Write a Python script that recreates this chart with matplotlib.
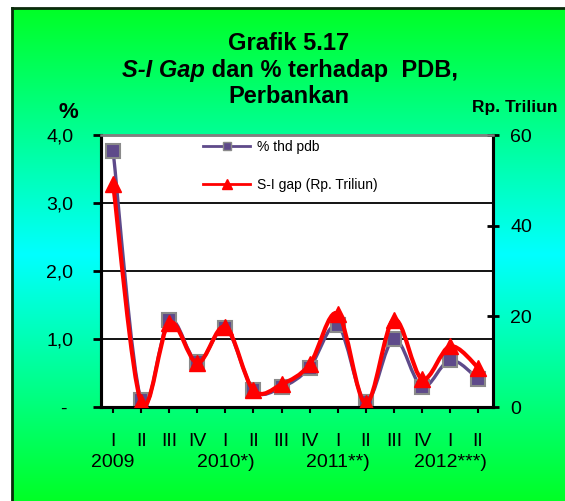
import numpy as np
import matplotlib
matplotlib.use('Agg')
from matplotlib import pyplot as plt
from matplotlib.path import Path
from matplotlib.patches import PathPatch
from matplotlib.lines import Line2D
from matplotlib.colors import LinearSegmentedColormap

plt.rcParams['font.family'] = ['Liberation Sans', 'DejaVu Sans']

# data
quarters = ['I', 'II', 'III', 'IV', 'I', 'II', 'III', 'IV', 'I', 'II', 'III', 'IV', 'I', 'II']
year_pos = [0, 4, 8, 12]
years = ['2009', '2010*)', '2011**)', '2012***)']
pdb_pct = [3.77, 0.10, 1.28, 0.66, 1.16, 0.25, 0.29, 0.58, 1.20, 0.08, 1.00, 0.30, 0.69, 0.41]
si_gap = [49.3, 1.0, 18.6, 9.7, 17.7, 3.7, 5.0, 9.4, 20.6, 0.8, 19.3, 6.2, 13.4, 8.7]
left_ticks = [0, 1, 2, 3, 4]
left_labels = ['- ', '1,0', '2,0', '3,0', '4,0']
right_ticks = [0, 20, 40, 60]

W, H = 565, 501
fig = plt.figure(figsize=(W / 100, H / 100), dpi=100)
fig.patch.set_facecolor('white')

# green -> cyan -> green background frame
bg = fig.add_axes([12 / W, 0, 1 - 12 / W, 1 - 8 / H])
cmap = LinearSegmentedColormap.from_list('bg', ['#00ff26', '#00ffff', '#00ff26'])
bg.imshow(np.linspace(0, 1, 256).reshape(-1, 1), aspect='auto', cmap=cmap,
          extent=(0, 1, 0, 1))
bg.set_xticks([])
bg.set_yticks([])
for s in ['right', 'bottom']:
    bg.spines[s].set_visible(False)
for s in ['left', 'top']:
    bg.spines[s].set_color('#0b2a0b')
    bg.spines[s].set_linewidth(2)


def smooth_path(xs, ys):
    pts = list(zip(xs, ys))
    n = len(pts)
    verts = [pts[0]]
    codes = [Path.MOVETO]
    for i in range(n - 1):
        p0 = pts[max(i - 1, 0)]
        p1 = pts[i]
        p2 = pts[i + 1]
        p3 = pts[min(i + 2, n - 1)]
        c1 = (p1[0] + (p2[0] - p0[0]) / 6, p1[1] + (p2[1] - p0[1]) / 6)
        c2 = (p2[0] - (p3[0] - p1[0]) / 6, p2[1] - (p3[1] - p1[1]) / 6)
        verts += [c1, c2, p2]
        codes += [Path.CURVE4] * 3
    return Path(verts, codes)


ax = fig.add_axes([101 / W, 1 - 407 / H, (493 - 101) / W, (407 - 135) / H])
ax.set_facecolor('white')
x = np.arange(len(quarters))
ax.set_xlim(-0.43, 13.53)
ax.set_ylim(0, 4)
ax.set_yticks(left_ticks)
ax.set_yticklabels(left_labels)
ax.grid(axis='y', color='black', lw=1.3)
ax.set_axisbelow(True)

purple = '#5e4a8a'
ax.add_patch(PathPatch(smooth_path(x, pdb_pct), facecolor='none',
                       edgecolor=purple, lw=2.4, zorder=3))
ax.plot(x, pdb_pct, 's', color=purple, mec='#8a8a8a', mew=1.5, ms=10, zorder=4)

ax2 = ax.twinx()
ax2.set_ylim(0, 60)
ax2.set_yticks(right_ticks)
ax2.add_patch(PathPatch(smooth_path(x, si_gap), facecolor='none',
                        edgecolor='#ff0000', lw=3, zorder=3))
ax2.plot(x, si_gap, '^', color='#ff0000', ms=11, zorder=4)

# quarters as major ticks, years as minor tick labels one row lower
ax.set_xticks(x)
ax.set_xticklabels(quarters)
ax.xaxis.remove_overlapping_locs = False
ax.set_xticks(year_pos, minor=True)
ax.set_xticklabels(years, minor=True)
ax.tick_params(axis='x', which='major', length=4, width=1.5, pad=15, labelsize=14)
ax.tick_params(axis='x', which='minor', length=0, pad=34, labelsize=14)
ax.tick_params(axis='y', length=6, width=2, pad=14, labelsize=14, direction='out')
ax2.tick_params(axis='y', length=9, width=2, pad=8, labelsize=14, direction='inout')

for a in (ax, ax2):
    a.spines['top'].set_color('#808080')
    a.spines['top'].set_linewidth(1.8)
    for s in ['left', 'right', 'bottom']:
        a.spines[s].set_color('black')
        a.spines[s].set_linewidth(2.2)

handles = [Line2D([], [], color=purple, lw=2, marker='s', ms=6, mfc=purple, mec='#8a8a8a'),
           Line2D([], [], color='#ff0000', lw=2, marker='^', ms=7)]
ax2.legend(handles, ['% thd pdb', 'S-I gap (Rp. Triliun)'], loc='upper left',
           bbox_to_anchor=(203 / W, 1 - 140 / H), bbox_transform=fig.transFigure,
           frameon=False, fontsize=10, handlelength=3.4, handletextpad=0.5,
           labelspacing=1.7, borderpad=0, borderaxespad=0)

# titles
fig.text(289 / W, 1 - 50 / H, 'Grafik 5.17', ha='center', va='baseline',
         fontsize=17, weight='bold')
t1 = fig.text(0, 1 - 77 / H, 'S-I Gap', va='baseline', fontsize=17,
              weight='bold', style='italic')
t2 = fig.text(0, 1 - 77 / H, ' dan % terhadap  PDB,', va='baseline',
              fontsize=17, weight='bold')
r = fig.canvas.get_renderer()
w1 = t1.get_window_extent(r).width
w2 = t2.get_window_extent(r).width
x0 = 290 - (w1 + w2) / 2
t1.set_x(x0 / W)
t2.set_x((x0 + w1) / W)
fig.text(289 / W, 1 - 103 / H, 'Perbankan', ha='center', va='baseline',
         fontsize=17, weight='bold')
fig.text(68 / W, 1 - 118 / H, '%', ha='center', va='baseline',
         fontsize=16, weight='bold')
fig.text(557 / W, 1 - 112 / H, 'Rp. Triliun', ha='right', va='baseline',
         fontsize=12.5, weight='bold')

plt.savefig('out.png', dpi=100)
